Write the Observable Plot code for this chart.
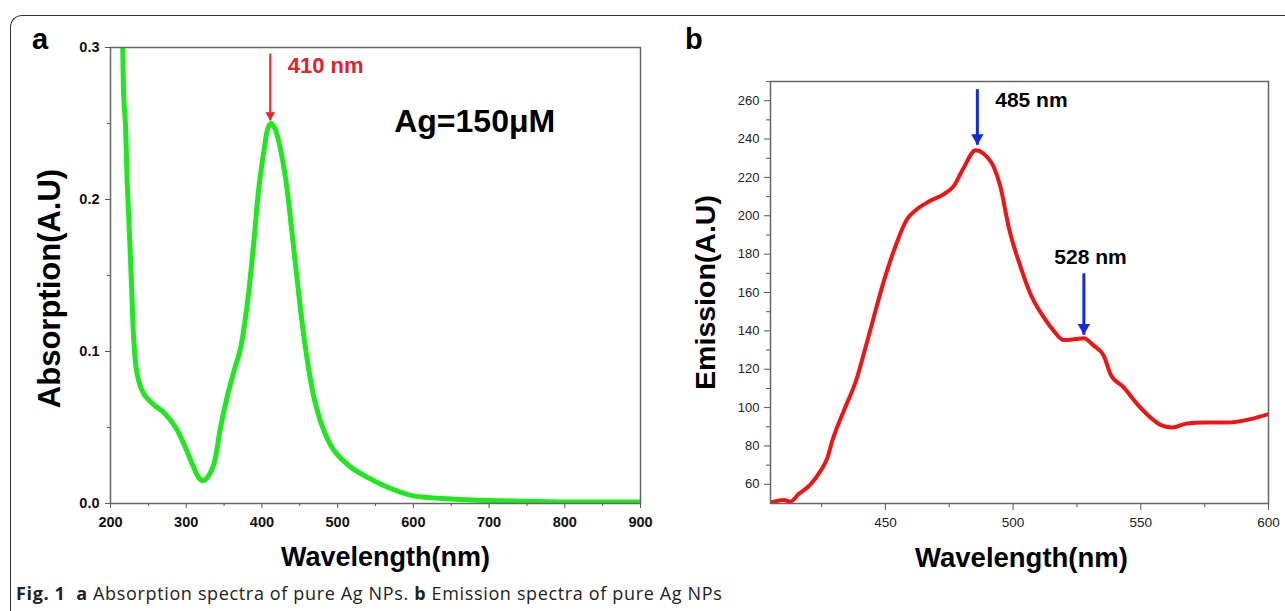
<!DOCTYPE html>
<html>
<head>
<meta charset="utf-8">
<script src="https://cdn.jsdelivr.net/npm/d3@7"></script>
<script src="https://cdn.jsdelivr.net/npm/@observablehq/plot@0.6"></script>
<style>
  html, body { margin: 0; padding: 0; background: #fff; }
  #fig { position: relative; width: 1285px; height: 611px; overflow: hidden; background: #fff; }
  #border { position: absolute; left: 10px; top: 15px; width: 1320px; height: 640px;
            border-top: 1.5px solid #333; border-left: 1.5px solid #333; border-top-left-radius: 12px; }
  .plabel { position: absolute; font-family: "Liberation Sans", Arial, sans-serif; font-weight: bold; font-size: 29px; color: #000; }
  #pa { position: absolute; left: 0; top: 0; }
  #pb { position: absolute; left: 660px; top: 0; }
  #caption { position: absolute; left: 16px; top: 581px; font-family: "Open Sans", "Noto Sans", sans-serif;
             font-size: 18px; color: #222; white-space: nowrap; letter-spacing: 0.65px; }
</style>
</head>
<body>
<div id="fig">
  <div id="border"></div>
  <div id="pa"></div>
  <div id="pb"></div>
  <div class="plabel" style="left:32px; top:23px;">a</div>
  <div class="plabel" style="left:685px; top:23px;">b</div>
  <div id="caption"><b>Fig. 1</b>&nbsp; <b>a</b> Absorption spectra of pure Ag NPs. <b>b</b> Emission spectra of pure Ag NPs</div>
</div>
<script>
// ---------- Panel a: absorption ----------
const absWavelength = [216, 217.6, 219.8, 222, 225.5, 228.6, 230.8, 235.2, 244, 257, 270, 286, 297, 308, 316.6, 322, 327.7, 336.5, 345.3, 354, 363, 371.7, 380.6, 389.3, 396, 403, 408, 412, 417, 422.3, 431.2, 440, 448.8, 457.6, 468.6, 481.8, 495, 517, 540, 560, 580, 600, 650, 700, 750, 800, 850, 900];
const absValue      = [0.31, 0.266, 0.249, 0.212, 0.172, 0.133, 0.107, 0.085, 0.072, 0.065, 0.060, 0.050, 0.039, 0.026, 0.017, 0.015, 0.017, 0.026, 0.050, 0.070, 0.087, 0.102, 0.131, 0.172, 0.208, 0.233, 0.247, 0.250, 0.247, 0.238, 0.214, 0.177, 0.137, 0.102, 0.070, 0.048, 0.035, 0.024, 0.017, 0.012, 0.008, 0.005, 0.003, 0.002, 0.0015, 0.001, 0.001, 0.001];
const absXTicks = [200, 300, 400, 500, 600, 700, 800, 900];
const absXMinor = [250, 350, 450, 550, 650, 750, 850];
const absYTicks = [0.0, 0.1, 0.2, 0.3];
const absYMinor = [0.05, 0.15, 0.25];
const absPeak = [{x1: 411, y1: 0.296, x2: 411, y2: 0.252, label: "410 nm", lx: 434, ly: 0.288}];
const absNote = [{x: 681, y: 0.251, text: "Ag=150\u03bcM"}];

// ---------- Panel b: emission ----------
const emWavelength = [405, 410.2, 412.8, 416, 420.7, 424.6, 427.2, 429.2, 433.7, 438.9, 441.5, 445.4, 449.4, 453.3, 458.5, 462.4, 467.6, 472.9, 476.8, 480.7, 485.3, 488.6, 492.5, 495.1, 498.3, 503, 506.8, 512, 515.9, 519.8, 524.4, 527.7, 531.6, 535.5, 538.1, 543.3, 548.6, 553.8, 557.7, 562.3, 568.1, 574.7, 583.8, 593, 600];
const emValue      = [50.5, 51.8, 51, 54.9, 60, 67, 73.5, 82.7, 98.3, 115.7, 127.9, 147, 166.1, 181.8, 198.3, 203.5, 207.8, 211.3, 215.6, 225.2, 234.2, 232.2, 225.2, 214.8, 193.9, 173, 159.2, 147, 140, 135.2, 135.7, 136.2, 132.2, 127, 117.5, 110.5, 101.8, 94.8, 91, 89.6, 91.7, 92.2, 92.2, 94, 96.6];
const emXTicks = [450, 500, 550, 600];
const emXMinor = [425, 475, 525, 575];
const emYTicks = [60, 80, 100, 120, 140, 160, 180, 200, 220, 240, 260];
const emYMinor = [70, 90, 110, 130, 150, 170, 190, 210, 230, 250, 270];
const emPeak1 = [{x1: 486, y1: 266, x2: 486, y2: 237, label: "485 nm", lx: 493, ly: 260}];
const emPeak2 = [{x1: 527.7, y1: 170, x2: 527.7, y2: 138, label: "528 nm", lx: 530.3, ly: 178.4}];

const absData = absWavelength.map((w, i) => ({w, a: absValue[i]}));
const emData = emWavelength.map((w, i) => ({w, e: emValue[i]}));
const emPeaks = emPeak1.concat(emPeak2);
const font = "'Liberation Sans', Arial, sans-serif";

const plotA = Plot.plot({
  width: 660, height: 580,
  marginLeft: 110, marginRight: 20, marginTop: 47, marginBottom: 77,
  x: {domain: [200, 900]},
  y: {domain: [0, 0.3]},
  style: {fontFamily: font, background: "transparent", color: "#111"},
  marks: [
    Plot.axisX(absXTicks, {tickSize: 5, tickPadding: 8, fontSize: 14.5, fontWeight: "bold", label: null, tickFormat: d => String(d), stroke: "#555"}),
    Plot.axisX(absXMinor, {tickSize: 3, label: null, tickFormat: () => "", stroke: "#555"}),
    Plot.axisY(absYTicks, {tickSize: 5, tickPadding: 6, fontSize: 14.5, fontWeight: "bold", label: null, tickFormat: d3.format(".1f"), stroke: "#555"}),
    Plot.axisY(absYMinor, {tickSize: 3, label: null, tickFormat: () => "", stroke: "#555"}),
    Plot.line(absData, {x: "w", y: "a", stroke: "#1fe81f", strokeWidth: 5, curve: "catmull-rom", clip: true}),
    Plot.frame({stroke: "#666", strokeWidth: 1.5}),
    Plot.link(absPeak, {x1: "x1", y1: "y1", x2: "x2", y2: "y2", stroke: "#ee2020", strokeWidth: 2}),
    Plot.dot(absPeak, {x: "x2", y: "y2", symbol: "triangle", rotate: 180, r: 3.6, dy: -5.5, fill: "#ee2020", stroke: "none"}),
    Plot.text(absPeak, {x: "lx", y: "ly", text: "label", fill: "#e8202a", fontSize: 22, fontWeight: "bold", textAnchor: "start"}),
    Plot.text(absNote, {x: "x", y: "y", text: "text", fill: "#000", fontSize: 32, fontWeight: "bold"}),
    Plot.text(["Wavelength(nm)"], {frameAnchor: "bottom", lineAnchor: "middle", dy: 54, dx: 10, fontSize: 27, fontWeight: "bold", fill: "#000"}),
    Plot.text(["Absorption(A.U)"], {frameAnchor: "left", textAnchor: "middle", lineAnchor: "middle", dx: -60, dy: 13, rotate: -90, fontSize: 31, fontWeight: "bold", fill: "#000"})
  ]
});
document.getElementById("pa").append(plotA);

const plotB = Plot.plot({
  width: 625, height: 580,
  marginLeft: 110, marginRight: 17, marginTop: 81, marginBottom: 77,
  x: {domain: [405, 600]},
  y: {domain: [50, 270]},
  style: {fontFamily: font, background: "transparent", color: "#222"},
  marks: [
    Plot.axisX(emXTicks, {tickSize: 7, tickPadding: 7, fontSize: 13.5, label: null, tickFormat: d => String(d), stroke: "#555"}),
    Plot.axisX(emXMinor, {tickSize: 4, label: null, tickFormat: () => "", stroke: "#555"}),
    Plot.axisY(emYTicks, {tickSize: 6, tickPadding: 5, fontSize: 13, label: null, tickFormat: d => String(d), stroke: "#555"}),
    Plot.axisY(emYMinor, {tickSize: 4, label: null, tickFormat: () => "", stroke: "#555"}),
    Plot.line(emData, {x: "w", y: "e", stroke: "#f01414", strokeWidth: 4, curve: "monotone-x", clip: true}),
    Plot.frame({stroke: "#666", strokeWidth: 1.5}),
    Plot.link(emPeaks, {x1: "x1", y1: "y1", x2: "x2", y2: "y2", stroke: "#1428e6", strokeWidth: 3}),
    Plot.dot(emPeaks, {x: "x2", y: "y2", symbol: "triangle", rotate: 180, r: 4.6, dy: -7, fill: "#1428e6", stroke: "none"}),
    Plot.text(emPeak1, {x: "lx", y: "ly", text: "label", fill: "#000", fontSize: 21, fontWeight: "bold", textAnchor: "start"}),
    Plot.text(emPeak2, {x: "lx", y: "ly", text: "label", fill: "#000", fontSize: 21, fontWeight: "bold", textAnchor: "middle"}),
    Plot.text(["Wavelength(nm)"], {frameAnchor: "bottom", lineAnchor: "middle", dy: 55, dx: 2, fontSize: 27.5, fontWeight: "bold", fill: "#000"}),
    Plot.text(["Emission(A.U)"], {frameAnchor: "left", textAnchor: "middle", lineAnchor: "middle", dx: -65, rotate: -90, fontSize: 28.5, fontWeight: "bold", fill: "#000"})
  ]
});
document.getElementById("pb").append(plotB);
</script>
</body>
</html>
